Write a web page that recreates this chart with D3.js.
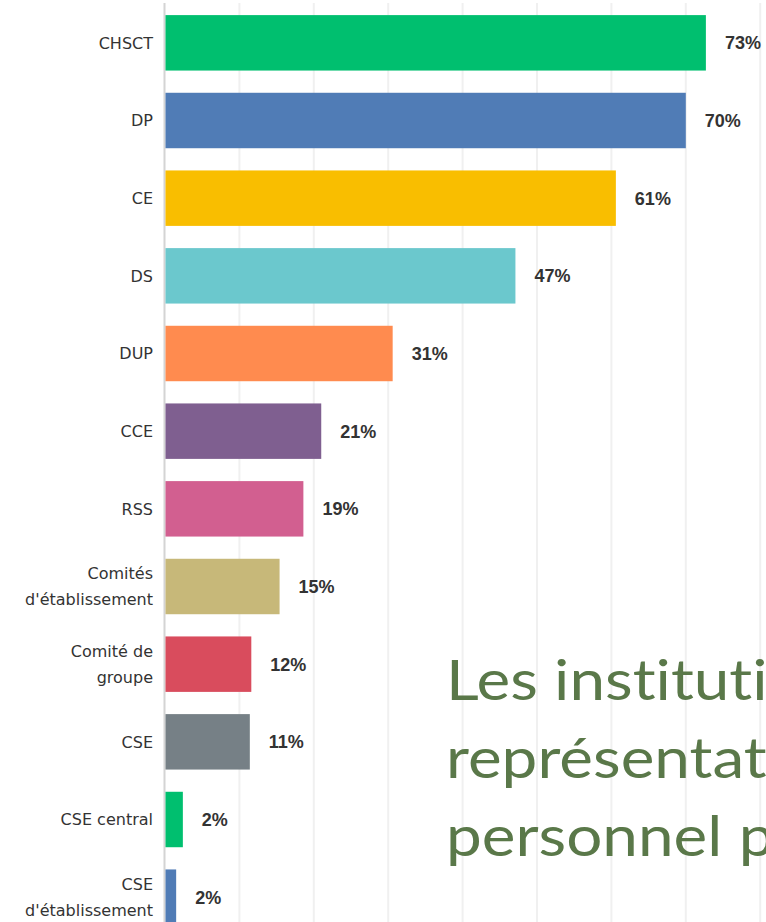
<!DOCTYPE html>
<html>
<head>
<meta charset="utf-8">
<script src="https://cdn.jsdelivr.net/npm/d3@7"></script>
<style>
  html, body { margin: 0; padding: 0; background: #fff; overflow: hidden; }
  svg { display: block; }
  .title { font-variant-ligatures: none; font-feature-settings: "liga" 0, "clig" 0, "dlig" 0; }
</style>
</head>
<body>
<div class="chart"></div>
<script>
// categories (multi-line labels split on "|")
var categories = ["CHSCT", "DP", "CE", "DS", "DUP", "CCE", "RSS",
  "Comités|d'établissement", "Comité de|groupe", "CSE", "CSE central",
  "CSE|d'établissement"];
// share of respondents, in percent
var values = [72.7, 70.0, 60.6, 47.1, 30.6, 21.0, 18.6, 15.4, 11.6, 11.4, 2.4, 1.5];
var colors = ["#00bf6f", "#507cb6", "#f9be00", "#6bc8cd", "#ff8b4f", "#7f5f90",
  "#d25f90", "#c7b879", "#d94c5d", "#768086", "#00bf6f", "#507cb6"];
var gridTicks = [10, 20, 30, 40, 50, 60, 70, 80, 90];
var titleLines = ["Les institutions", "représentatives du", "personnel présentes"];

var w = 766;
var h = 922;

var svg = d3.select(".chart")
            .append("svg")
            .attr("width", w)
            .attr("height", h);

var x = d3.scaleLinear().domain([0, 100]).range([165, 909]);
var y = d3.scaleBand().domain(categories).range([4, 936]).paddingInner(0.286).paddingOuter(0.143);

// light vertical gridlines
svg.selectAll(".grid")
   .data(gridTicks)
   .enter()
   .append("line")
   .attr("class", "grid")
   .attr("x1", function(d) { return x(d); })
   .attr("x2", function(d) { return x(d); })
   .attr("y1", 3)
   .attr("y2", h)
   .attr("stroke", "#f0f0f0")
   .attr("stroke-width", 2);

// axis line
svg.append("line")
   .attr("x1", x(0) - 0.5).attr("x2", x(0) - 0.5)
   .attr("y1", 3).attr("y2", h)
   .attr("stroke", "#d4d4d4")
   .attr("stroke-width", 2);

var rows = categories.map(function(c, i) { return { cat: c, v: values[i], color: colors[i] }; });

svg.selectAll(".bar")
   .data(rows)
   .enter()
   .append("rect")
   .attr("class", "bar")
   .attr("x", x(0) + 0.5)
   .attr("y", function(d) { return y(d.cat); })
   .attr("width", function(d) { return x(d.v) - x(0) - 0.5; })
   .attr("height", y.bandwidth())
   .attr("fill", function(d) { return d.color; });

// value labels
svg.selectAll(".val")
   .data(rows)
   .enter()
   .append("text")
   .attr("class", "val")
   .attr("x", function(d) { return x(d.v) + 19; })
   .attr("y", function(d) { return y(d.cat) + y.bandwidth() / 2; })
   .attr("dy", "0.36em")
   .attr("font-family", "'Liberation Sans', Arial, sans-serif")
   .attr("font-size", "18px")
   .attr("font-weight", "bold")
   .attr("fill", "#333")
   .text(function(d) { return Math.round(d.v) + "%"; });

// category labels
var cats = svg.selectAll(".cat")
   .data(rows)
   .enter()
   .append("text")
   .attr("class", "cat")
   .attr("text-anchor", "end")
   .attr("font-family", "'DejaVu Sans', sans-serif")
   .attr("font-size", "16px")
   .attr("fill", "#333");

cats.each(function(d) {
  var lines = d.cat.split("|");
  var cy = y(d.cat) + y.bandwidth() / 2;
  var lh = 26;
  d3.select(this).selectAll("tspan")
    .data(lines)
    .enter()
    .append("tspan")
    .attr("x", 153)
    .attr("y", function(l, i) { return cy + (i - (lines.length - 1) / 2) * lh; })
    .attr("dy", "0.36em")
    .text(function(l) { return l; });
});

// overlaid title (cut off by the window edge, as in the source)
svg.append("g")
   .attr("transform", "translate(446,0) scale(1.12,1)")
   .append("text")
   .attr("class", "title")
   .attr("font-family", "Lato, sans-serif")
   .attr("font-size", "57px")
   .attr("fill", "#5a7849")
   .selectAll("tspan")
   .data(titleLines)
   .enter()
   .append("tspan")
   .attr("x", 0)
   .attr("y", function(d, i) { return 700 + i * 78; })
   .text(function(d) { return d; });
</script>
</body>
</html>
